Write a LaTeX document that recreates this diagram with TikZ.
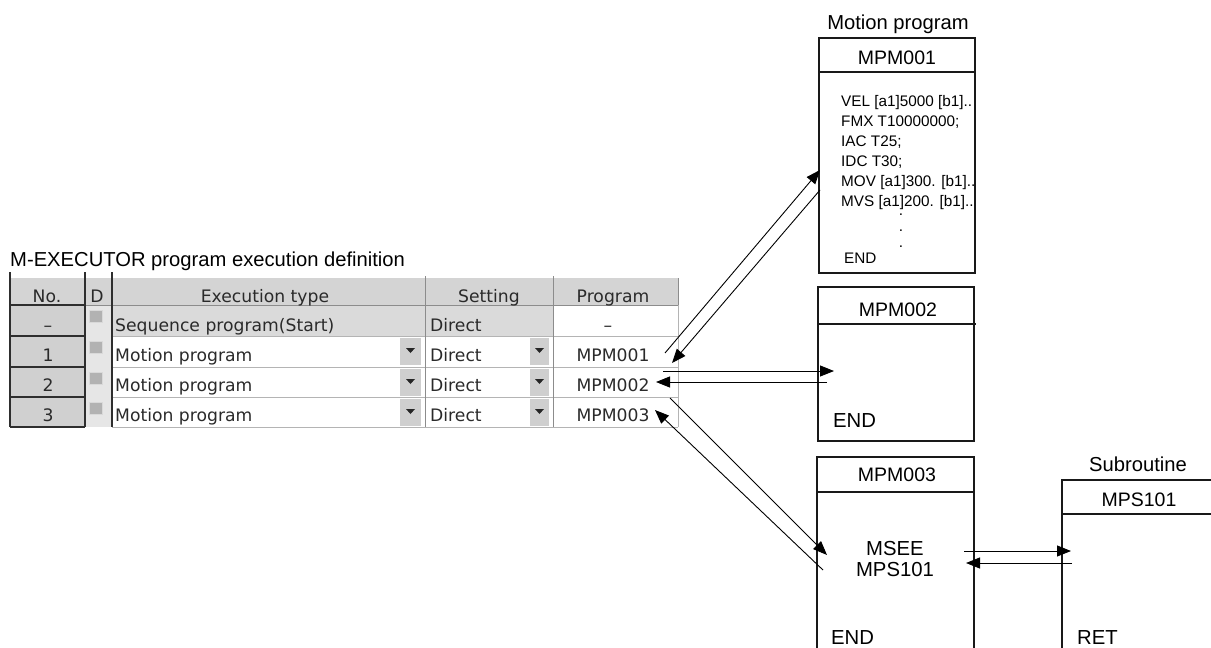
\documentclass[tikz,border=0pt]{standalone}
\usepackage{fontspec}
\setmainfont{Liberation Sans}
\newfontfamily\uifont{DejaVu Sans}
\usetikzlibrary{arrows.meta}
\definecolor{hdr}{HTML}{D4D4D4}
\definecolor{nocol}{HTML}{D0D0D0}
\definecolor{seqrow}{HTML}{DADADA}
\definecolor{dcol}{HTML}{E6E6E6}
\definecolor{btn}{HTML}{CFCFCF}
\definecolor{gridc}{HTML}{B4B4B4}
\definecolor{darkc}{HTML}{2E2E2E}
\definecolor{uitext}{HTML}{2A2A2A}
\begin{document}
\begin{tikzpicture}[x=1pt,y=-1pt,
  boxline/.style={draw=black!90, line width=1.1pt},
  conn/.style={line width=0.9pt, draw=black},
  arrowconn/.style={conn, -{Triangle[length=14pt,width=11pt]}},
  ttl/.style={inner sep=0pt, anchor=base, font=\fontsize{20.2}{22}\selectfont},
  mtitle/.style={inner sep=0pt, anchor=base, font=\fontsize{19.5}{21}\selectfont},
  big/.style={inner sep=0pt, font=\fontsize{20.3}{22}\selectfont},
  code/.style={inner sep=0pt, anchor=base west, font=\fontsize{15.3}{17}\selectfont},
  ui/.style={inner sep=0pt, text=uitext, font=\uifont\fontsize{17.2}{19}\selectfont},
  uic/.style={ui, anchor=base},
  uil/.style={ui, anchor=base west}
]
\useasboundingbox (0,0) rectangle (1211,648);

% ---------------- table ----------------
\node[ttl, anchor=base west] (tabtitle) at (10,266) {M-EXECUTOR program execution definition};

\fill[hdr] (10,278) rectangle (678,305);
\fill[nocol] (10,305) rectangle (85,427);
\fill[dcol] (85,305) rectangle (112,427);
\fill[seqrow] (112,305) rectangle (553,336);
\foreach \t in {336,367,397}{
  \fill[btn] (400,\t+2) rectangle (421,\t+29);
  \fill[btn] (530,\t+2) rectangle (549,\t+29);
  \fill[black!85] (406,\t+12) -- (415,\t+12) -- (410.5,\t+17) -- cycle;
  \fill[black!85] (535,\t+12) -- (544,\t+12) -- (539.5,\t+17) -- cycle;
}
\foreach \t in {305,336,367,397}{
  \filldraw[fill=black!30, draw=black!15, line width=0.8pt] (89,\t+5) rectangle (102,\t+17);
}
% light grid
\foreach \yy in {336,367,397,427}{
  \draw[gridc, line width=0.9pt] (112,\yy) -- (678,\yy);
}
\draw[black!45, line width=1pt] (10,305) -- (678,305);
\draw[black!45, line width=1pt] (425,276) -- (425,427);
\draw[black!45, line width=1pt] (553,276) -- (553,427);
\draw[black!45, line width=1pt] (678,278) -- (678,305);
\draw[gridc, line width=0.8pt] (678,305) -- (678,427);
% dark lines
\foreach \yy in {305,336,367,397,427}{
  \draw[darkc, line width=1.4pt] (10,\yy) -- (85,\yy);
}
\draw[darkc, line width=1.2pt] (10,272) -- (10,427);
\draw[darkc, line width=1.2pt] (85,272) -- (85,427);
\draw[darkc, line width=1.2pt] (112,272) -- (112,427);

% header texts
\node[uic] (hno) at (47,302) {No.};
\node[uic] (hd) at (97,302) {D};
\node[uic] (hexec) at (265,302) {Execution type};
\node[uic] (hset) at (489,302) {Setting};
\node[uic] (hprog) at (613,302) {Program};
% row "-"
\node[uic] (n0) at (48,331) {–};
\node[uil] (e0) at (115,331) {Sequence program(Start)};
\node[uil] (s0) at (430,331) {Direct};
\node[uic] (p0) at (608,331) {–};
% rows 1-3
\node[uic] (n1) at (48,361) {1};
\node[uil] (e1) at (115,361) {Motion program};
\node[uil] (s1) at (430,361) {Direct};
\node[uic] (p1) at (613,361) {MPM001};
\node[uic] (n2) at (48,391) {2};
\node[uil] (e2) at (115,391) {Motion program};
\node[uil] (s2) at (430,391) {Direct};
\node[uic] (p2) at (613,391) {MPM002};
\node[uic] (n3) at (48,421) {3};
\node[uil] (e3) at (115,421) {Motion program};
\node[uil] (s3) at (430,421) {Direct};
\node[uic] (p3) at (613,421) {MPM003};

% ---------------- MPM001 ----------------
\node[ttl] (mptitle) at (898,29) {Motion program};
\draw[boxline] (819,38) rectangle (975,273);
\draw[boxline] (819,72) -- (975,72);
\node[mtitle] (m1t) at (897,64.5) {MPM001};
\node[code] (c1) at (841,106) {VEL [a1]5000 [b1]..};
\node[code] (c2) at (841,126) {FMX T10000000;};
\node[code] (c3) at (841,146) {IAC T25;};
\node[code] (c4) at (841,166) {IDC T30;};
\node[code] (c5) at (841,186) {MOV [a1]300. [b1]..};
\node[code] (c6) at (841,206) {MVS [a1]200. [b1]..};
\node[code, anchor=base] (d1) at (901,215) {.};
\node[code, anchor=base] (d2) at (901,231) {.};
\node[code, anchor=base] (d3) at (901,247) {.};
\node[code] (c7) at (844,263) {END};

% ---------------- MPM002 ----------------
\draw[boxline] (818,287) rectangle (974,441);
\draw[boxline] (818,324) -- (976,324);
\node[mtitle] (m2t) at (898,316) {MPM002};
\node[big, anchor=base west] (m2end) at (833,427) {END};

% ---------------- MPM003 ----------------
\draw[boxline] (817,652) -- (817,457) -- (974,457) -- (974,652);
\draw[boxline] (817,492) -- (974,492);
\node[mtitle] (m3t) at (897,481.7) {MPM003};
\node[big, anchor=base] (msee) at (895,555) {MSEE};
\node[big, anchor=base] (msee2) at (895,576) {MPS101};
\node[big, anchor=base west] (m3end) at (831,644) {END};

% ---------------- Subroutine ----------------
\node[ttl] (subtitle) at (1138,471.7) {Subroutine};
\draw[boxline] (1062,652) -- (1062,480) -- (1215,480);
\draw[boxline] (1062,514) -- (1215,514);
\node[mtitle] (subt) at (1139,506.7) {MPS101};
\node[big, anchor=base west] (ret) at (1077,644) {RET};

% ---------------- connectors ----------------
\coordinate (a1s) at (665,353);  \coordinate (a1e) at (820,170);
\coordinate (a2s) at (820,190);  \coordinate (a2e) at (672,363);
\coordinate (a3s) at (663,371);  \coordinate (a3e) at (834,371);
\coordinate (a4s) at (827,382);  \coordinate (a4e) at (656,382);
\coordinate (a5s) at (670,398);  \coordinate (a5e) at (827,555);
\coordinate (a6s) at (823,570);  \coordinate (a6e) at (655,410);
\coordinate (a7s) at (964,551);  \coordinate (a7e) at (1071,551);
\coordinate (a8s) at (1072,563); \coordinate (a8e) at (966,563);
\draw[arrowconn] (a1s) -- (a1e);
\draw[arrowconn] (a2s) -- (a2e);
\draw[arrowconn] (a3s) -- (a3e);
\draw[arrowconn] (a4s) -- (a4e);
\draw[arrowconn] (a5s) -- (a5e);
\draw[arrowconn] (a6s) -- (a6e);
\draw[arrowconn] (a7s) -- (a7e);
\draw[arrowconn] (a8s) -- (a8e);
\end{tikzpicture}
\end{document}
